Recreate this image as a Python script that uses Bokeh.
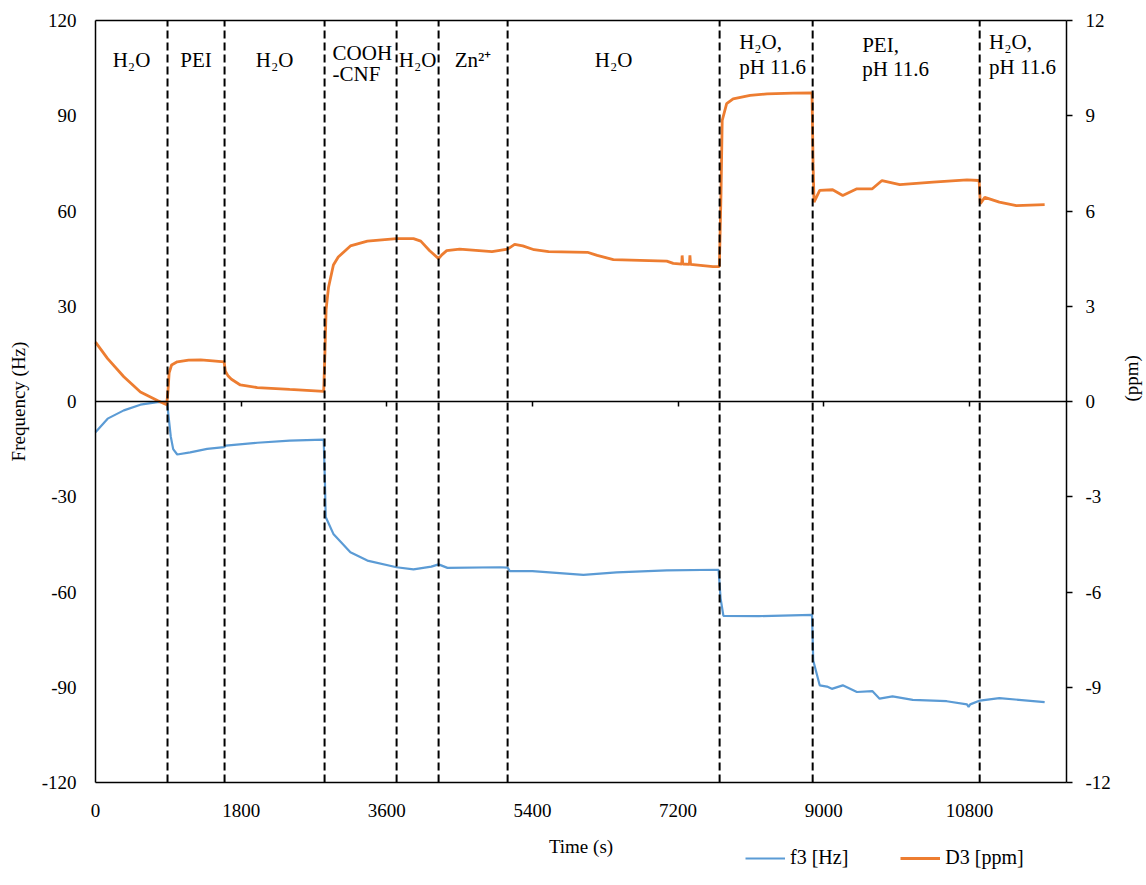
import math
from bokeh.plotting import figure
from bokeh.models import (Range1d, LinearAxis, FixedTicker, Label, Legend,
                          LegendItem, ColumnDataSource, PrintfTickFormatter,
                          CustomJSTickFormatter)
from bokeh.embed import file_html
from bokeh.resources import INLINE

# ---------------- data ----------------
# f3 frequency shift (Hz), left axis
f3_time = [0, 150, 350, 555, 765, 885, 900, 930, 960, 1010, 1170, 1380, 1590, 1610,
           2000, 2400, 2820, 2835, 2845, 2940, 3150, 3360, 3720, 3930, 4150, 4240,
           4350, 5000, 5093, 5120, 5400, 6030, 6440, 7060, 7700, 7725, 7760, 8200,
           8855, 8870, 8950, 9040, 9100, 9235, 9410, 9600, 9690, 9850, 10100, 10520,
           10770, 10790, 10810, 10930, 11170, 11730]
f3_hz = [-9.7, -5.4, -2.8, -1.0, -0.2, -0.1, -4.0, -11.0, -15.0, -16.7, -16.0, -14.9,
         -14.4, -13.9, -13.0, -12.3, -12.0, -25.0, -36.4, -41.7, -47.5, -50.1, -52.2,
         -52.9, -52.0, -51.3, -52.4, -52.2, -52.3, -53.4, -53.4, -54.6, -53.8, -53.2,
         -53.0, -62.0, -67.5, -67.6, -67.2, -81.6, -89.4, -89.8, -90.5, -89.4, -91.5,
         -91.2, -93.6, -92.9, -94.0, -94.4, -95.4, -96.2, -95.4, -94.2, -93.4, -94.7]

# D3 dissipation shift (ppm), right axis
d3_time = [0, 150, 350, 555, 765, 880, 895, 910, 940, 1010, 1150, 1300, 1450, 1590,
           1605, 1640, 1680, 1790, 2000, 2400, 2820, 2835, 2850, 2880, 2940, 3000,
           3150, 3360, 3720, 3930, 4020, 4130, 4240, 4280, 4340, 4500, 4900, 5093,
           5180, 5280, 5420, 5600, 6080, 6200, 6400, 7060, 7140, 7245, 7250, 7258,
           7340, 7346, 7354, 7630, 7710, 7730, 7745, 7800, 7880, 8090, 8300, 8620,
           8855, 8868, 8880, 8950, 9110, 9235, 9410, 9600, 9720, 9940, 10350, 10770,
           10920, 10935, 10990, 11170, 11380, 11730]
d3_ppm = [1.87, 1.35, 0.78, 0.30, 0.03, -0.10, 0.30, 0.90, 1.15, 1.25, 1.30, 1.31,
          1.28, 1.25, 0.95, 0.80, 0.70, 0.52, 0.44, 0.38, 0.32, 1.50, 2.90, 3.60,
          4.30, 4.55, 4.90, 5.05, 5.13, 5.13, 5.05, 4.75, 4.50, 4.62, 4.75, 4.80,
          4.72, 4.80, 4.95, 4.90, 4.78, 4.72, 4.70, 4.60, 4.47, 4.42, 4.35, 4.33,
          4.60, 4.33, 4.32, 4.60, 4.32, 4.25, 4.25, 6.50, 8.85, 9.38, 9.53, 9.64,
          9.69, 9.71, 9.72, 7.50, 6.28, 6.65, 6.67, 6.49, 6.70, 6.70, 6.96, 6.83,
          6.91, 6.98, 6.96, 6.23, 6.43, 6.28, 6.17, 6.20]

# solution-change events (s) and phase names
event_times = [890, 1595, 2831, 3721, 4240, 5093, 7713, 8863, 10927]
phase_names = ["H₂O", "PEI", "H₂O", "COOH\n-CNF", "H₂O", "Zn²⁺", "H₂O",
               "H₂O,\npH 11.6", "PEI,\npH 11.6", "H₂O,\npH 11.6"]

x_ticks = [0, 1800, 3600, 5400, 7200, 9000, 10800]
y_ticks = [-120, -90, -60, -30, 0, 30, 60, 90, 120]
y2_ticks = [-12, -9, -6, -3, 0, 3, 6, 9, 12]

x_min, x_max = 0, 12000
y_min, y_max = -120, 120
y2_min, y2_max = -12, 12
series_names = ["f3 [Hz]", "D3 [ppm]"]

# ---------------- layout (pixels) ----------------
W, H = 1146, 885
PL, PR, PT, PB = 95, 1066, 20, 782   # plot-area edges inside the canvas
kx = (PR - PL) / (x_max - x_min)
ky = (PB - PT) / (y_max - y_min)
xr = Range1d(x_min - PL / kx, x_max + (W - PR) / kx)
yr = Range1d(y_min - (H - PB) / ky, y_max + PT / ky)
ratio = (y2_max - y2_min) / (y_max - y_min)

FONT = "Liberation Serif"
BLUE = "#5B9BD5"
ORANGE = "#ED7D31"

p = figure(width=W, height=H, output_backend="svg", toolbar_location=None,
           x_range=xr, y_range=yr, x_axis_location=None, y_axis_location=None,
           min_border=0, min_border_left=0, min_border_right=0,
           min_border_top=0, min_border_bottom=0)
p.extra_y_ranges = {"d3": Range1d(yr.start * ratio, yr.end * ratio)}
p.grid.visible = False
p.outline_line_color = None
p.background_fill_color = "white"
p.border_fill_color = "white"


def style(ax):
    ax.major_label_text_font = FONT
    ax.major_label_text_font_size = "19px"
    ax.major_label_text_color = "black"
    ax.axis_label_text_font = FONT
    ax.axis_label_text_font_size = "19px"
    ax.axis_label_text_font_style = "normal"
    ax.axis_label_text_color = "black"
    ax.axis_line_color = "black"
    ax.axis_line_width = 1.5
    ax.major_tick_line_color = "black"
    ax.major_tick_line_width = 1.5
    ax.major_tick_in = 0
    ax.major_tick_out = 0
    ax.minor_tick_in = 0
    ax.minor_tick_out = 0
    return ax


blank = CustomJSTickFormatter(code="return ''")

# bottom axis (at y = -120)
xa = style(LinearAxis(ticker=FixedTicker(ticks=x_ticks),
                      formatter=PrintfTickFormatter(format="%d"),
                      fixed_location=y_min, bounds=(x_min, x_max)))
xa.major_label_standoff = 21
xa.axis_label = "Time (s)"
xa.axis_label_standoff = 16
p.add_layout(xa, "below")

# zero line with tick marks
za = style(LinearAxis(ticker=FixedTicker(ticks=x_ticks[1:]), formatter=blank,
                      fixed_location=0, bounds=(x_min, x_max)))
za.major_tick_out = 5
p.add_layout(za, "below")

# top border
ta = style(LinearAxis(ticker=FixedTicker(ticks=[]), formatter=blank,
                      fixed_location=y_max, bounds=(x_min, x_max)))
p.add_layout(ta, "above")

# left axis
ya = style(LinearAxis(ticker=FixedTicker(ticks=y_ticks),
                      formatter=PrintfTickFormatter(format="%d"),
                      fixed_location=x_min, bounds=(y_min, y_max)))
ya.major_label_standoff = 19
ya.axis_label = "Frequency (Hz)"
ya.axis_label_standoff = 10
p.add_layout(ya, "left")

# right axis
ra = style(LinearAxis(y_range_name="d3", ticker=FixedTicker(ticks=y2_ticks),
                      formatter=PrintfTickFormatter(format="%d"),
                      fixed_location=x_max, bounds=(y2_min, y2_max)))
ra.major_tick_out = 6
ra.major_label_standoff = 13
ra.axis_label = "(ppm)"
ra.axis_label_standoff = 18
ra.axis_label_orientation = math.pi / 2
p.add_layout(ra, "right")

# data lines
blue = p.line(f3_time, f3_hz, line_color=BLUE, line_width=2.2)
orange = p.line(d3_time, d3_ppm, y_range_name="d3", line_color=ORANGE, line_width=2.8)

# event dashed lines
ev_src = ColumnDataSource(dict(x=event_times, y0=[y_min] * len(event_times),
                               y1=[y_max] * len(event_times)))
p.segment(x0="x", y0="y0", x1="x", y1="y1", source=ev_src, line_color="black",
          line_width=2, line_dash="8 4")

# phase labels
bounds = [x_min] + event_times + [x_max]
single_y = 107.7
two_line_layout = {3: ([109.9, 103.3], -28), 7: ([113.1, 105.2], -27),
                   8: ([112.4, 104.6], -34), 9: ([113.1, 105.2], -34)}
for i, name in enumerate(phase_names):
    mid = (bounds[i] + bounds[i + 1]) / 2
    lines = name.split("\n")
    if len(lines) == 1:
        p.add_layout(Label(x=mid, y=single_y, text=name, text_align="center",
                           text_baseline="middle", text_font=FONT,
                           text_font_size="21px", text_color="black"))
    else:
        ys, xoff = two_line_layout[i]
        for ln, yy in zip(lines, ys):
            p.add_layout(Label(x=mid, y=yy, x_offset=xoff, text=ln, text_align="left",
                               text_baseline="middle", text_font=FONT,
                               text_font_size="21px", text_color="black"))

legend = Legend(items=[LegendItem(label=series_names[0], renderers=[blue]),
                       LegendItem(label=series_names[1], renderers=[orange])],
                orientation="horizontal", location=(745, 16), glyph_width=40,
                glyph_height=20, label_standoff=5, spacing=52, padding=0, margin=0,
                border_line_color=None, background_fill_alpha=0,
                label_text_font=FONT, label_text_font_size="20px",
                label_text_color="black")
p.add_layout(legend)

open("out.html", "w").write(file_html(p, INLINE))
